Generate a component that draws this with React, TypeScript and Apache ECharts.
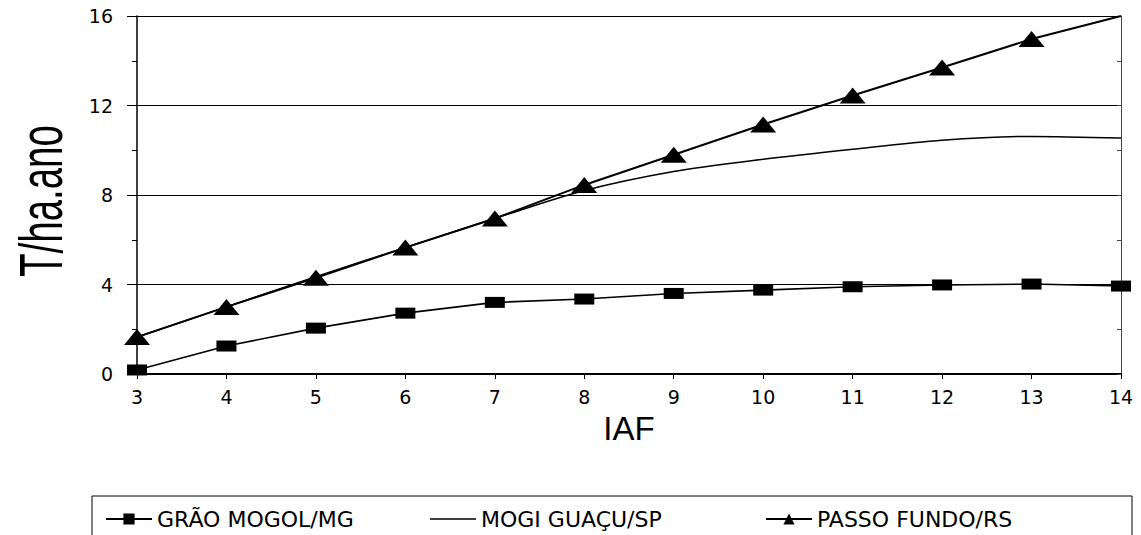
import React, { useEffect, useRef } from "react";
import * as echarts from "echarts";

const iafValues = [3, 4, 5, 6, 7, 8, 9, 10, 11, 12, 13, 14];
const graoMogol = [0.18, 1.25, 2.05, 2.72, 3.2, 3.35, 3.6, 3.75, 3.9, 3.98, 4.02, 3.93];
const mogiGuacu = [1.65, 3.0, 4.35, 5.65, 6.95, 8.2, 9.05, 9.6, 10.05, 10.45, 10.62, 10.55];
const passoFundo = [1.65, 3.0, 4.3, 5.65, 6.95, 8.45, 9.8, 11.15, 12.45, 13.7, 14.97, 16.0];
const seriesNames = ["GRÃO MOGOL/MG", "MOGI GUAÇU/SP", "PASSO FUNDO/RS"];
const yTitle = "T/ha.ano";
const xTitle = "IAF";

export default function App() {
  const ref = useRef<HTMLDivElement>(null);
  useEffect(() => {
    if (!ref.current) return;
    const chart = echarts.init(ref.current, null, { renderer: "svg" });
    const pairs = (vals: number[]) => vals.map((v, i) => [iafValues[i], v]);
    const tickFont = { fontFamily: "DejaVu Sans", fontSize: 19, color: "#000" };
    const legendBase = {
      orient: "horizontal",
      top: 503,
      itemWidth: 46,
      itemHeight: 14,
      textStyle: { fontFamily: "DejaVu Sans", fontSize: 22, color: "#000" },
      selectedMode: false,
    };
    chart.setOption({
      animation: false,
      backgroundColor: "#fff",
      grid: { left: 137, right: 20, top: 16, bottom: 161, containLabel: false },
      xAxis: {
        type: "value",
        min: 3,
        max: 14,
        interval: 1,
        name: xTitle,
        nameLocation: "middle",
        nameGap: 38,
        nameTextStyle: { fontFamily: "Liberation Sans", fontSize: 33, color: "#000" },
        axisLine: { show: true, onZero: false, lineStyle: { color: "#000", width: 2 } },
        axisTick: { show: true, length: 5, lineStyle: { color: "#000" } },
        axisLabel: { ...tickFont, margin: 13 },
        splitLine: { show: false },
      },
      yAxis: [
        {
          type: "value",
          min: 0,
          max: 16,
          interval: 4,
          axisLine: { show: true, lineStyle: { color: "#000", width: 1.5 } },
          axisTick: { show: true, length: 10, lineStyle: { color: "#000" } },
          minorTick: { show: true, splitNumber: 2, length: 5, lineStyle: { color: "#000" } },
          axisLabel: { ...tickFont, margin: 24 },
          splitLine: { show: true, lineStyle: { color: "#000", width: 1.2 } },
        },
        {
          type: "value",
          min: 0,
          max: 16,
          interval: 4,
          position: "right",
          axisLine: { show: true, lineStyle: { color: "#444", width: 1 } },
          axisTick: { show: true, inside: true, length: 4, lineStyle: { color: "#444" } },
          minorTick: { show: true, splitNumber: 2, length: 4, lineStyle: { color: "#444" } },
          axisLabel: { show: false },
          splitLine: { show: false },
        },
      ],
      legend: [
        { ...legendBase, left: 100, data: [seriesNames[0]] },
        {
          ...legendBase,
          left: 425,
          itemHeight: 1.5,
          data: [{ name: seriesNames[1], icon: "rect" }],
        },
        { ...legendBase, left: 760, data: [seriesNames[2]] },
      ],
      graphic: [
        {
          type: "text",
          x: 40,
          y: 201,
          rotation: Math.PI / 2,
          scaleX: 0.62,
          style: {
            text: yTitle,
            font: '62px "Liberation Sans"',
            fill: "#000",
            textAlign: "center",
            textVerticalAlign: "middle",
          },
        },
        {
          type: "rect",
          shape: { x: 92, y: 496, width: 1040, height: 60 },
          style: { fill: "none", stroke: "#000", lineWidth: 1 },
          silent: true,
        },
      ],
      series: [
        {
          name: seriesNames[0],
          type: "line",
          data: pairs(graoMogol),
          symbol: "rect",
          symbolSize: [20, 11],
          itemStyle: { color: "#000" },
          lineStyle: { color: "#000", width: 1.6 },
          z: 3,
        },
        {
          name: seriesNames[1],
          type: "line",
          data: pairs(mogiGuacu),
          symbol: "none",
          smooth: 0.3,
          itemStyle: { color: "#000" },
          lineStyle: { color: "#000", width: 1.5 },
          z: 2,
        },
        {
          name: seriesNames[2],
          type: "line",
          data: pairs(passoFundo).map((p, i) =>
            i === passoFundo.length - 1 ? { value: p, symbol: "none" } : p
          ),
          symbol: "triangle",
          symbolSize: [26, 16],
          itemStyle: { color: "#000" },
          lineStyle: { color: "#000", width: 2 },
          z: 4,
        },
      ],
    });
    return () => chart.dispose();
  }, []);
  return (
    <div
      ref={ref}
      style={{ position: "fixed", left: 0, top: 0, width: 1141, height: 535, background: "#fff" }}
    />
  );
}
